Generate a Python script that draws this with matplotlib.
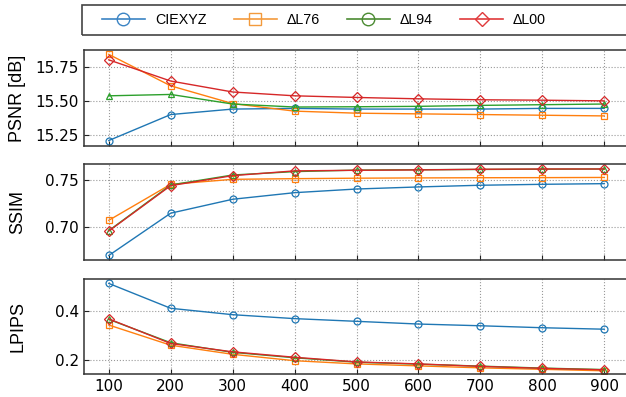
import matplotlib
matplotlib.use("Agg")
import matplotlib.pyplot as plt
from matplotlib.lines import Line2D
from matplotlib.patches import Rectangle

steps = [100, 200, 300, 400, 500, 600, 700, 800, 900]
names = ['CIEXYZ', 'ΔL76', 'ΔL94', 'ΔL00']

psnr_xyz = [15.21, 15.40, 15.44, 15.445, 15.44, 15.44, 15.44, 15.445, 15.445]
psnr_l76 = [15.84, 15.61, 15.48, 15.425, 15.41, 15.405, 15.40, 15.395, 15.39]
psnr_l94 = [15.537, 15.547, 15.477, 15.455, 15.457, 15.46, 15.467, 15.472, 15.477]
psnr_l00 = [15.80, 15.645, 15.565, 15.537, 15.525, 15.515, 15.508, 15.505, 15.50]

ssim_xyz = [0.670, 0.715, 0.7298, 0.7368, 0.7407, 0.7429, 0.7447, 0.7457, 0.7464]
ssim_l76 = [0.7074, 0.7457, 0.7510, 0.7517, 0.7522, 0.7525, 0.7527, 0.7528, 0.7530]
ssim_l94 = [0.6964, 0.7450, 0.7556, 0.7592, 0.7608, 0.7612, 0.7615, 0.7618, 0.7620]
ssim_l00 = [0.6960, 0.7443, 0.7549, 0.7600, 0.7606, 0.7610, 0.7617, 0.7620, 0.7620]

lpips_xyz = [0.512, 0.411, 0.385, 0.369, 0.358, 0.347, 0.340, 0.332, 0.326]
lpips_l76 = [0.343, 0.261, 0.224, 0.198, 0.185, 0.177, 0.169, 0.163, 0.157]
lpips_l94 = [0.366, 0.271, 0.232, 0.210, 0.192, 0.184, 0.176, 0.168, 0.162]
lpips_l00 = [0.368, 0.268, 0.234, 0.212, 0.193, 0.185, 0.175, 0.167, 0.161]

colors = ['#1f77b4', '#ff7f0e', '#2ca02c', '#d62728']
markers = ['o', 's', '^', 'D']

panels = [
    ('PSNR [dB]', [psnr_xyz, psnr_l76, psnr_l94, psnr_l00], (15.17, 15.872), [15.25, 15.50, 15.75], '%.2f'),
    ('SSIM', [ssim_xyz, ssim_l76, ssim_l94, ssim_l00], (0.6652, 0.7673), [0.70, 0.75], '%.2f'),
    ('LPIPS', [lpips_xyz, lpips_l76, lpips_l94, lpips_l00], (0.144, 0.530), [0.2, 0.4], '%.1f'),
]

fig = plt.figure(figsize=(6.26, 3.97), dpi=100)
left = 84 / 626
width = 545 / 626
boxes = [(50, 146), (164, 260), (279, 374)]

for i, (label, series, ylim, yticks, fmt) in enumerate(panels):
    top, bot = boxes[i]
    ax = fig.add_axes([left, 1 - bot / 397, width, (bot - top) / 397])
    for s, c, m in zip(series, colors, markers):
        ax.plot(steps, s, color=c, marker=m, markersize=5, markerfacecolor='none',
                markeredgewidth=0.9, linewidth=1.0)
    ax.set_xlim(60, 940)
    ax.set_ylim(*ylim)
    ax.set_xticks(steps)
    ax.set_yticks(yticks)
    ax.yaxis.set_major_formatter(matplotlib.ticker.FormatStrFormatter(fmt))
    ax.grid(True, linestyle=':', color='#999999', linewidth=0.8)
    ax.tick_params(direction='in', labelsize=11, length=3.5, color='#222222')
    if i < 2:
        ax.tick_params(labelbottom=False)
    for sp in ax.spines.values():
        sp.set_color('#333333')
        sp.set_linewidth(1.1)
    ax.set_ylabel(label, fontsize=13, family='Liberation Sans')
    ax.yaxis.set_label_coords(-0.106, 0.5)

handles = [
    Line2D([], [], color='#3b84c4', marker='o', markersize=9, markerfacecolor='none', linewidth=1.2),
    Line2D([], [], color='#f39a3c', marker='s', markersize=9, markerfacecolor='none', linewidth=1.2),
    Line2D([], [], color='#4b8b32', marker='o', markersize=9, markerfacecolor='none', linewidth=1.2),
    Line2D([], [], color='#e0393b', marker='D', markersize=7, markerfacecolor='none', linewidth=1.2),
]
leg = fig.legend(handles, names, loc='center left', ncol=4,
                 bbox_to_anchor=(102 / 626, 1 - 20 / 397),
                 borderaxespad=0, frameon=False,
                 prop={'family': 'Liberation Sans', 'size': 10.3},
                 handlelength=3.0, handletextpad=0.7, borderpad=0.0,
                 columnspacing=1.9)
# frame of the legend runs past the right edge of the picture
fig.patches.append(Rectangle((82 / 626, 1 - 35 / 397), 0.9, 30 / 397,
                             transform=fig.transFigure, fill=False,
                             edgecolor='#444444', linewidth=1.2))

fig.savefig('out.png', dpi=100)
